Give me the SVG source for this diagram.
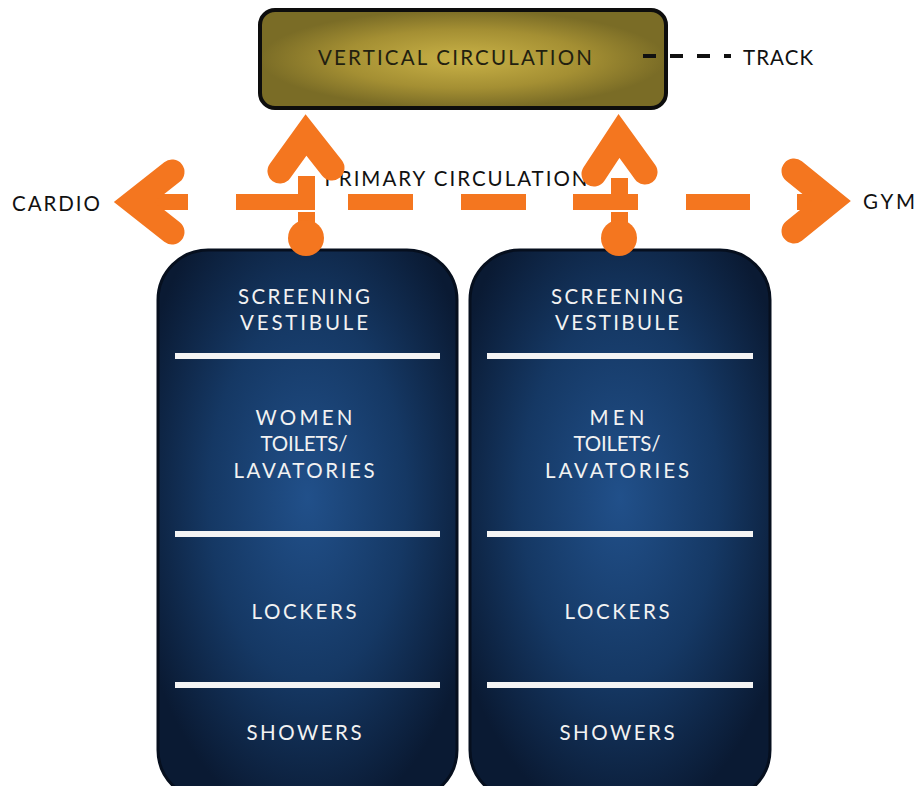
<svg xmlns="http://www.w3.org/2000/svg" width="924" height="786" viewBox="0 0 924 786">
<style>
.t{font-family:Lato,"Open Sans","Liberation Sans",sans-serif;font-size:20.5px;text-anchor:middle}
.w{fill:#f2f2f2}
.k{fill:#111}
.div{fill:#f4f4f4}
.or{fill:#f4761f}
.ors{fill:none;stroke:#f4761f;stroke-width:25;stroke-linecap:round;stroke-linejoin:miter;stroke-miterlimit:10}
</style>
<defs>
<radialGradient id="gold" cx="0.5" cy="0.5" r="0.5">
<stop offset="0" stop-color="#c9b247"/>
<stop offset="0.6" stop-color="#a48f33"/>
<stop offset="1" stop-color="#7a6c26"/>
</radialGradient>
<radialGradient id="navy" cx="0.5" cy="0.45" r="0.6">
<stop offset="0" stop-color="#21508a"/>
<stop offset="0.55" stop-color="#153864"/>
<stop offset="1" stop-color="#0a1a33"/>
</radialGradient>
</defs>
<rect width="924" height="786" fill="#ffffff"/>

<g id="node-vertical-circulation">
<rect x="260" y="10" width="406" height="98" rx="15" fill="url(#gold)" stroke="#0d0d0d" stroke-width="4"/>
<text class="t" x="455" y="65" fill="#221f10" textLength="274" lengthAdjust="spacing">VERTICAL CIRCULATION</text>
</g>

<g id="node-women">
<rect x="158" y="250" width="299" height="550" rx="50" fill="url(#navy)" stroke="#060f1e" stroke-width="3"/>
<rect class="div" x="175" y="353" width="265" height="6"/>
<rect class="div" x="175" y="531" width="265" height="6"/>
<rect class="div" x="175" y="682" width="265" height="6"/>
<text class="t w" x="304" y="304" textLength="132" lengthAdjust="spacing">SCREENING</text>
<text class="t w" x="304" y="330" textLength="128" lengthAdjust="spacing">VESTIBULE</text>
<text class="t w" x="304" y="425" textLength="97" lengthAdjust="spacing">WOMEN</text>
<text class="t w" x="304" y="451" textLength="87" lengthAdjust="spacing">TOILETS/</text>
<text class="t w" x="304" y="478" textLength="141" lengthAdjust="spacing">LAVATORIES</text>
<text class="t w" x="304" y="619" textLength="105" lengthAdjust="spacing">LOCKERS</text>
<text class="t w" x="304" y="740" textLength="115" lengthAdjust="spacing">SHOWERS</text>
</g>

<g id="node-men">
<rect x="470" y="250" width="300" height="550" rx="50" fill="url(#navy)" stroke="#060f1e" stroke-width="3"/>
<rect class="div" x="487" y="353" width="266" height="6"/>
<rect class="div" x="487" y="531" width="266" height="6"/>
<rect class="div" x="487" y="682" width="266" height="6"/>
<text class="t w" x="617" y="304" textLength="132" lengthAdjust="spacing">SCREENING</text>
<text class="t w" x="617" y="330" textLength="124" lengthAdjust="spacing">VESTIBULE</text>
<text class="t w" x="617" y="425" textLength="55" lengthAdjust="spacing">MEN</text>
<text class="t w" x="617" y="451" textLength="87" lengthAdjust="spacing">TOILETS/</text>
<text class="t w" x="617" y="478" textLength="144" lengthAdjust="spacing">LAVATORIES</text>
<text class="t w" x="617" y="619" textLength="105" lengthAdjust="spacing">LOCKERS</text>
<text class="t w" x="617" y="740" textLength="115" lengthAdjust="spacing">SHOWERS</text>
</g>

<g id="label-cardio"><text class="t k" x="56" y="211" textLength="88" lengthAdjust="spacing">CARDIO</text></g>
<g id="label-gym"><text class="t k" x="889" y="209" textLength="52" lengthAdjust="spacing">GYM</text></g>
<g id="label-track"><text class="t k" x="778" y="65" textLength="70" lengthAdjust="spacing">TRACK</text></g>
<g id="label-primary"><text class="t k" x="456" y="186" textLength="263" lengthAdjust="spacing">PRIMARY CIRCULATION</text></g>

<g id="connectors">
<line x1="643" y1="56" x2="731" y2="56" stroke="#111" stroke-width="4" stroke-dasharray="13 14"/>
<rect class="or" x="130" y="194" width="58" height="16"/>
<rect class="or" x="236" y="194" width="66" height="16"/>
<rect class="or" x="348" y="194" width="65" height="16"/>
<rect class="or" x="461" y="194" width="65" height="16"/>
<rect class="or" x="573" y="194" width="65" height="16"/>
<rect class="or" x="686" y="194" width="64" height="16"/>
<rect class="or" x="797" y="194" width="40" height="16"/>
<polyline class="ors" points="172,172 134,202 172,232"/>
<polyline class="ors" points="794,171 831,201 794,231"/>
<polyline class="ors" points="280,171 306,135 332,168"/>
<rect class="or" x="298" y="176" width="17" height="34"/>
<rect class="or" x="298" y="212" width="17" height="18"/>
<circle class="or" cx="306" cy="238" r="18"/>
<polyline class="ors" points="594,174 619,136 645,172"/>
<rect class="or" x="611" y="178" width="17" height="32"/>
<rect class="or" x="611" y="212" width="17" height="18"/>
<circle class="or" cx="619" cy="238" r="18"/>
</g>
</svg>
